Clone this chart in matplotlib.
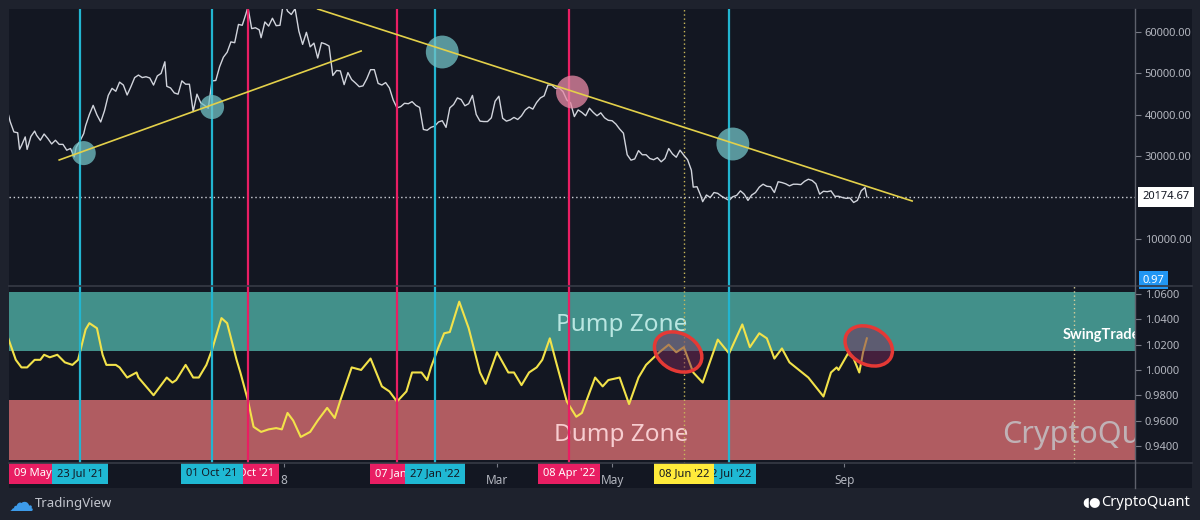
import matplotlib
matplotlib.use('Agg')
import matplotlib.pyplot as plt
import matplotlib.dates as mdates
import matplotlib.transforms as mtransforms
from matplotlib.patches import Ellipse, Rectangle
from matplotlib.lines import Line2D
import pandas as pd

plt.rcParams['font.family'] = ['Noto Sans', 'DejaVu Sans']

# ---- BTC daily close ----
price_dates = [
    '2021-06-15', '2021-06-16', '2021-06-18', '2021-06-20', '2021-06-21', '2021-06-22', '2021-06-24',
    '2021-06-25', '2021-06-27', '2021-06-29', '2021-06-30', '2021-07-02', '2021-07-04', '2021-07-06',
    '2021-07-08', '2021-07-10', '2021-07-12', '2021-07-14', '2021-07-16', '2021-07-18', '2021-07-20',
    '2021-07-21', '2021-07-23', '2021-07-25', '2021-07-26', '2021-07-28', '2021-07-30', '2021-08-01',
    '2021-08-03', '2021-08-05', '2021-08-07', '2021-08-09', '2021-08-11', '2021-08-13', '2021-08-15',
    '2021-08-17', '2021-08-19', '2021-08-21', '2021-08-23', '2021-08-25', '2021-08-27', '2021-08-29',
    '2021-08-31', '2021-09-02', '2021-09-04', '2021-09-06', '2021-09-07', '2021-09-09', '2021-09-11',
    '2021-09-13', '2021-09-15', '2021-09-17', '2021-09-19', '2021-09-21', '2021-09-23', '2021-09-25',
    '2021-09-27', '2021-09-29', '2021-10-01', '2021-10-03', '2021-10-05', '2021-10-07', '2021-10-09',
    '2021-10-11', '2021-10-13', '2021-10-15', '2021-10-17', '2021-10-19', '2021-10-20', '2021-10-22',
    '2021-10-24', '2021-10-26', '2021-10-27', '2021-10-29', '2021-10-31', '2021-11-02', '2021-11-04',
    '2021-11-06', '2021-11-08', '2021-11-10', '2021-11-12', '2021-11-14', '2021-11-16', '2021-11-18',
    '2021-11-20', '2021-11-22', '2021-11-24', '2021-11-26', '2021-11-28', '2021-11-30', '2021-12-02',
    '2021-12-04', '2021-12-06', '2021-12-08', '2021-12-10', '2021-12-12', '2021-12-14', '2021-12-16',
    '2021-12-18', '2021-12-20', '2021-12-22', '2021-12-24', '2021-12-26', '2021-12-28', '2021-12-30',
    '2022-01-01', '2022-01-03', '2022-01-05', '2022-01-07', '2022-01-09', '2022-01-11', '2022-01-13',
    '2022-01-15', '2022-01-17', '2022-01-19', '2022-01-21', '2022-01-23', '2022-01-25', '2022-01-27',
    '2022-01-29', '2022-01-31', '2022-02-02', '2022-02-04', '2022-02-06', '2022-02-08', '2022-02-10',
    '2022-02-12', '2022-02-14', '2022-02-16', '2022-02-18', '2022-02-20', '2022-02-22', '2022-02-24',
    '2022-02-26', '2022-02-28', '2022-03-02', '2022-03-04', '2022-03-06', '2022-03-08', '2022-03-10',
    '2022-03-12', '2022-03-14', '2022-03-16', '2022-03-18', '2022-03-20', '2022-03-22', '2022-03-24',
    '2022-03-26', '2022-03-28', '2022-03-30', '2022-04-01', '2022-04-03', '2022-04-05', '2022-04-07',
    '2022-04-09', '2022-04-11', '2022-04-13', '2022-04-15', '2022-04-17', '2022-04-19', '2022-04-21',
    '2022-04-23', '2022-04-25', '2022-04-27', '2022-04-29', '2022-05-01', '2022-05-03', '2022-05-05',
    '2022-05-07', '2022-05-09', '2022-05-11', '2022-05-13', '2022-05-15', '2022-05-17', '2022-05-19',
    '2022-05-21', '2022-05-23', '2022-05-25', '2022-05-27', '2022-05-29', '2022-05-31', '2022-06-02',
    '2022-06-04', '2022-06-06', '2022-06-08', '2022-06-10', '2022-06-12', '2022-06-13', '2022-06-15',
    '2022-06-17', '2022-06-18', '2022-06-20', '2022-06-22', '2022-06-24', '2022-06-26', '2022-06-28',
    '2022-06-30', '2022-07-02', '2022-07-04', '2022-07-06', '2022-07-08', '2022-07-10', '2022-07-12',
    '2022-07-14', '2022-07-16', '2022-07-18', '2022-07-20', '2022-07-22', '2022-07-24', '2022-07-26',
    '2022-07-28', '2022-07-30', '2022-08-01', '2022-08-03', '2022-08-05', '2022-08-07', '2022-08-09',
    '2022-08-11', '2022-08-13', '2022-08-15', '2022-08-17', '2022-08-19', '2022-08-21', '2022-08-23',
    '2022-08-25', '2022-08-27', '2022-08-29', '2022-08-31', '2022-09-02', '2022-09-04', '2022-09-06',
    '2022-09-08', '2022-09-10', '2022-09-12', '2022-09-13',
]
price = [
    40100, 38300, 35800, 35600, 31600, 32500, 34600,
    31600, 34700, 36000, 35000, 33800, 35300, 34200,
    32900, 33800, 32800, 32800, 31400, 31800, 29800,
    32100, 33600, 35400, 37300, 40000, 42200, 39900,
    38200, 40900, 44600, 46300, 45600, 47800, 47100,
    44700, 46700, 48900, 49500, 48900, 49100, 48800,
    47100, 49300, 49900, 52700, 46800, 46400, 45200,
    44900, 48100, 47300, 47300, 40700, 44900, 42800,
    42200, 41500, 48100, 48200, 51500, 53800, 55000,
    57500, 57300, 61700, 61500, 64300, 65900, 60700,
    60900, 60400, 58500, 62300, 61300, 63200, 61400,
    61500, 67500, 64900, 64100, 65500, 60100, 56900,
    59800, 56300, 57200, 53600, 57300, 57000, 56500,
    49400, 50600, 50500, 47200, 50100, 48400, 47600,
    46700, 46900, 48600, 50800, 50800, 47500, 47100,
    47700, 46400, 43500, 41600, 41900, 42700, 42600,
    43100, 42200, 41700, 36400, 36200, 36900, 37200,
    38200, 38500, 36900, 41600, 42400, 44000, 43600,
    42100, 42600, 44600, 40000, 38400, 38300, 38300,
    39200, 43200, 44400, 39100, 38400, 38700, 39300,
    38800, 39700, 41100, 41800, 41300, 42900, 44000,
    44500, 47100, 47100, 46300, 46400, 45500, 43500,
    42800, 39500, 41100, 40500, 39700, 41500, 40500,
    39700, 40400, 39200, 38600, 38500, 37700, 36500,
    35500, 30300, 29000, 29300, 31300, 30300, 30300,
    29400, 29100, 29600, 28600, 29400, 31800, 30500,
    29700, 31400, 30200, 29100, 26600, 22500, 22600,
    20400, 19000, 20600, 20000, 21200, 21000, 20300,
    19800, 19300, 20200, 20500, 21600, 20800, 19300,
    20600, 21200, 22500, 23200, 22700, 22600, 21200,
    23800, 23600, 23300, 22800, 23200, 23200, 23100,
    23900, 24400, 24100, 23300, 20800, 21500, 21400,
    21600, 20300, 20300, 20000, 19800, 19900, 18800,
    19300, 21600, 22400, 20174.67,
]
last_price = 20174.67

# ---- oscillator (lower pane) ----
osc_dates = [
    '2021-06-15', '2021-06-19', '2021-06-22', '2021-06-25', '2021-06-29', '2021-07-02', '2021-07-04',
    '2021-07-07', '2021-07-11', '2021-07-15', '2021-07-19', '2021-07-22', '2021-07-26', '2021-07-28',
    '2021-08-01', '2021-08-04', '2021-08-06', '2021-08-11', '2021-08-13', '2021-08-17', '2021-08-22',
    '2021-08-23', '2021-08-27', '2021-08-31', '2021-09-03', '2021-09-07', '2021-09-10', '2021-09-12',
    '2021-09-17', '2021-09-21', '2021-09-24', '2021-09-28', '2021-10-01', '2021-10-06', '2021-10-09',
    '2021-10-14', '2021-10-16', '2021-10-20', '2021-10-23', '2021-10-27', '2021-10-31', '2021-11-04',
    '2021-11-07', '2021-11-10', '2021-11-13', '2021-11-17', '2021-11-22', '2021-11-26', '2021-12-01',
    '2021-12-05', '2021-12-08', '2021-12-14', '2021-12-19', '2021-12-24', '2021-12-30', '2022-01-03',
    '2022-01-07', '2022-01-12', '2022-01-15', '2022-01-20', '2022-01-23', '2022-01-25', '2022-01-29',
    '2022-02-01', '2022-02-04', '2022-02-09', '2022-02-14', '2022-02-20', '2022-02-23', '2022-03-01',
    '2022-03-07', '2022-03-10', '2022-03-14', '2022-03-18', '2022-03-22', '2022-03-25', '2022-03-29',
    '2022-04-01', '2022-04-07', '2022-04-12', '2022-04-15', '2022-04-22', '2022-04-26', '2022-04-29',
    '2022-05-05', '2022-05-10', '2022-05-15', '2022-05-19', '2022-05-26', '2022-05-31', '2022-06-04',
    '2022-06-08', '2022-06-13', '2022-06-18', '2022-06-26', '2022-07-02', '2022-07-09', '2022-07-13',
    '2022-07-18', '2022-07-22', '2022-07-26', '2022-07-30', '2022-08-03', '2022-08-08', '2022-08-13',
    '2022-08-21', '2022-08-25', '2022-08-28', '2022-08-29', '2022-09-03', '2022-09-06', '2022-09-09',
    '2022-09-11', '2022-09-13',
]
osc = [
    1.025, 1.008, 1.002, 1.002, 1.008, 1.008, 1.012,
    1.010, 1.012, 1.006, 1.004, 1.008, 1.032, 1.037,
    1.033, 1.012, 1.004, 1.004, 1.002, 0.994, 0.998,
    0.994, 0.987, 0.980, 0.986, 0.994, 0.990, 0.992,
    1.004, 0.994, 0.994, 1.004, 1.016, 1.041, 1.037,
    1.008, 0.998, 0.976, 0.955, 0.951, 0.953, 0.954,
    0.953, 0.966, 0.960, 0.947, 0.951, 0.960, 0.970,
    0.962, 0.976, 1.002, 1.000, 1.009, 0.987, 0.983,
    0.975, 0.983, 0.998, 0.998, 0.992, 1.002, 1.018,
    1.029, 1.030, 1.054, 1.033, 0.998, 0.989, 1.014,
    0.998, 0.998, 0.988, 0.998, 1.002, 1.008, 1.025,
    1.008, 0.975, 0.963, 0.966, 0.994, 0.987, 0.992,
    0.994, 0.973, 0.994, 1.004, 1.014, 1.020, 1.014,
    1.018, 0.998, 0.990, 1.024, 1.013, 1.036, 1.018,
    1.029, 1.025, 1.009, 1.017, 1.006, 1.000, 0.994,
    0.979, 0.998, 1.002, 1.000, 1.013, 1.009, 0.998,
    1.014, 1.025,
]
pump_zone = (1.0147, 1.0616)
dump_zone = (0.929, 0.9762)

# ---- annotations drawn on the chart ----
blue_dates = ['2021-07-23', '2021-10-01', '2022-01-27', '2022-07-02']
blue_labels = ["23 Jul '21", "01 Oct '21", "27 Jan '22", "2 Jul '22"]
red_dates = ['2021-05-09', '2021-10-20', '2022-01-07', '2022-04-08']
red_labels = ["09 May '2", "Oct '21", "07 Jan", "08 Apr '22"]
marked_date = '2022-06-08'
marked_label = "08 Jun '22"
cycle_end = '2023-01-01'

trend_up_dates = ['2021-07-12', '2021-12-19']
trend_up = [29040, 55300]
trend_down_dates = ['2021-11-26', '2022-10-07']
trend_down = [65420, 19160]

circle_dates = ['2021-07-25', '2021-10-01', '2022-01-31', '2022-04-10', '2022-07-04']
circle_prices = [30700, 41800, 55060, 45420, 32890]
circle_kind = ['buy', 'buy', 'buy', 'sell', 'buy']

ring_dates = ['2022-06-05', '2022-09-14']
ring_values = [1.0142, 1.019]

xtick_dates = ['2021-11-08', '2022-03-01', '2022-05-01', '2022-09-01']
xtick_labels = ['8', 'Mar', 'May', 'Sep']

# ---- colours ----
BG = '#131722'
FRAME = '#1e222d'
GRID = '#363a45'
TXT = '#b2b5be'
BLUE = '#22b5d0'
RED = '#e91e63'
YEL = '#f2e24a'

W, H = 1200, 520
fig = plt.figure(figsize=(12, 5.2), dpi=100, facecolor=FRAME)
# chart background as an axes of its own, below everything else
bg = fig.add_axes([9 / W, 1 - 488 / H, (1192 - 9) / W, (488 - 9) / H], zorder=-5)
bg.axis('off')
bg.add_patch(Rectangle((0, 0), 1, 1, transform=bg.transAxes, color=BG, zorder=0))

ax1 = fig.add_axes([9 / W, 1 - 286 / H, 1126 / W, 277 / H])
ax2 = fig.add_axes([9 / W, 1 - 463 / H, 1126 / W, 177 / H], sharex=ax1)

t0 = pd.Timestamp('2021-07-23')
xlim = (t0 - pd.Timedelta(days=37.6), t0 + pd.Timedelta(days=559.1))

for ax in (ax1, ax2):
    ax.set_facecolor('none')
    for s in ax.spines.values():
        s.set_visible(False)
    ax.yaxis.tick_right()
    ax.tick_params(axis='y', length=4, color='#787b86', labelcolor=TXT, labelsize=8, pad=3)

# ---- top pane: price ----
ax1.plot(pd.to_datetime(price_dates), price, color='#d1d4dc', lw=1.0, zorder=4)
ax1.axhline(last_price, color='#d1d4dc', lw=1.0, ls=(0, (1, 2)), zorder=3)

for d in blue_dates:
    for ax in (ax1, ax2):
        ax.axvline(pd.Timestamp(d), color=BLUE, lw=1.6, zorder=5)
for d in red_dates:
    for ax in (ax1, ax2):
        ax.axvline(pd.Timestamp(d), color=RED, lw=1.6, zorder=5)
for ax in (ax1, ax2):
    ax.axvline(pd.Timestamp(marked_date), color='#c9b85a', lw=1.0, ls=(0, (1, 2)), zorder=3)
ax2.axvline(pd.Timestamp(cycle_end), color='#d8cf9a', lw=1.0, ls=(0, (1, 2)), zorder=3)

circ_col = ['#72c2c6' if k == 'buy' else '#e98aa6' for k in circle_kind]
circ_size = [300, 300, 560, 560, 560]
ax1.scatter(pd.to_datetime(circle_dates), circle_prices, s=circ_size, c=circ_col,
            alpha=0.75, edgecolors='none', zorder=6)

ax1.plot(pd.to_datetime(trend_up_dates), trend_up, color='#e3d04a', lw=1.2, zorder=7)
ax1.plot(pd.to_datetime(trend_down_dates), trend_down, color='#e3d04a', lw=1.2, zorder=7)
ax1.set_xlim(xlim)
ax1.set_ylim(-1325, 65422)
ax1.set_yticks([10000, 30000, 40000, 50000, 60000])
ax1.yaxis.set_major_formatter(matplotlib.ticker.FormatStrFormatter('%.2f'))
ax1.tick_params(axis='x', bottom=False, labelbottom=False)

bt1 = mtransforms.blended_transform_factory(ax1.transAxes, ax1.transData)
ax1.text(1.0065, last_price, '20174.67', transform=bt1, ha='left', va='center', fontsize=8,
         color='#131722', clip_on=False,
         bbox=dict(boxstyle='square,pad=0.4', fc='white', ec='none'))
ax1.text(1.0065, 100, '0.97', transform=bt1, ha='left', va='center', fontsize=8,
         color='white', clip_on=False,
         bbox=dict(boxstyle='square,pad=0.3', fc='#2196f3', ec='none'))

# ---- bottom pane: oscillator ----
ax2.axhspan(pump_zone[0], pump_zone[1], color='#42908a', lw=0, zorder=1)
ax2.axhspan(dump_zone[0], dump_zone[1], color='#b05c61', lw=0, zorder=1)
ax2.plot(pd.to_datetime(osc_dates), osc, color=YEL, lw=1.5, zorder=4)
ax2.set_ylim(0.9264, 1.0664)
ax2.set_yticks([0.94, 0.96, 0.98, 1.00, 1.02, 1.04, 1.06])
ax2.yaxis.set_major_formatter(matplotlib.ticker.FormatStrFormatter('%.4f'))

ax2.text(pd.Timestamp('2022-05-06'), 1.0356, 'Pump Zone', ha='center', va='center',
         fontsize=17.5, color='#b9e6e1', zorder=2)
ax2.text(pd.Timestamp('2022-05-06'), 0.9486, 'Dump Zone', ha='center', va='center',
         fontsize=17.5, color='#f7cdd0', zorder=2)
# both of these run off the pane edge in the original, so only the visible part is written
bt2y = mtransforms.blended_transform_factory(ax2.transAxes, ax2.transData)
ax2.text(0.936, 1.0277, 'SwingTrade', transform=bt2y, ha='left', va='center', fontsize=10.5,
         fontweight='bold', family=['Lato', 'DejaVu Sans'], color='white', clip_on=True, zorder=3)
ax2.text(0.882, 0.9486, 'CryptoQua', transform=bt2y, ha='left', va='center', fontsize=22,
         color='#c4c2c6', alpha=0.85, clip_on=True, zorder=2)

for d, v in zip(ring_dates, ring_values):
    x = mdates.date2num(pd.Timestamp(d))
    tr = fig.dpi_scale_trans + mtransforms.ScaledTranslation(x, v, ax2.transData)
    ax2.add_patch(Ellipse((0, 0), 0.50, 0.37, angle=-28, transform=tr,
                          fc=(0.47, 0.16, 0.35, 0.5), ec='#e53935', lw=2.5, zorder=6))

# x axis labels
ax2.set_xticks(pd.to_datetime(xtick_dates))
ax2.set_xticklabels(xtick_labels)
ax2.tick_params(axis='x', length=3, color='#787b86', labelcolor=TXT, labelsize=8.5, pad=5)
ax2.set_xlim(xlim)

# date tags under the lower pane; where tags collide only the uncovered part is shown
lab_y = -0.062
bt2 = mtransforms.blended_transform_factory(ax2.transData, ax2.transAxes)
TAG_FS = 8


def tag(date, text, fc, tc, z, ha='center', dx=0.0):
    ax2.annotate(text, xy=(mdates.date2num(pd.Timestamp(date)), lab_y), xycoords=bt2,
                 xytext=(dx, 0), textcoords='offset points', ha=ha, va='center',
                 fontsize=TAG_FS, color=tc, zorder=z, annotation_clip=False,
                 bbox=dict(boxstyle='square,pad=0.45', fc=fc, ec='none'))


ax2.text(0.0045, lab_y, red_labels[0], transform=ax2.transAxes, ha='left', va='center',
         fontsize=TAG_FS, color='white', zorder=10,
         bbox=dict(boxstyle='square,pad=0.45', fc=RED, ec='none'))
tag(red_dates[1], red_labels[1], RED, 'white', 10, ha='right', dx=19)
tag(red_dates[2], red_labels[2], RED, 'white', 10, ha='left', dx=-16)
tag(red_dates[3], red_labels[3], RED, 'white', 10)
for d, lab in zip(blue_dates[:3], blue_labels[:3]):
    tag(d, lab, '#1fb8d3', '#131722', 11)
tag(blue_dates[3], blue_labels[3], '#1fb8d3', '#131722', 11, ha='right', dx=16)
tag(marked_date, marked_label, '#ffeb3b', '#131722', 12)

# separators and price scale border
for y in (286, 463):
    fig.add_artist(Line2D([9 / W, 1192 / W], [1 - y / H, 1 - y / H], color=GRID, lw=1.2))
fig.add_artist(Line2D([1135 / W, 1135 / W], [1 - 9 / H, 1 - 488 / H], color='#5d606b', lw=1.0))

# footer logos
fig.text(9 / W, 1 - 504 / H, '☁', color='#3d9be9', fontsize=18, ha='left', va='center',
         family=['DejaVu Sans'])
fig.text(35 / W, 1 - 504 / H, 'TradingView', color='#c3c6ce', fontsize=9.5, ha='left', va='center')
fig.text(1082 / W, 1 - 503 / H, '◖●', color='white', fontsize=9.5, ha='left', va='center',
         family=['DejaVu Sans'])
fig.text(1190 / W, 1 - 503 / H, 'CryptoQuant', color='white', fontsize=10.5, ha='right',
         va='center')

fig.savefig('out.png', dpi=100, facecolor=FRAME)
